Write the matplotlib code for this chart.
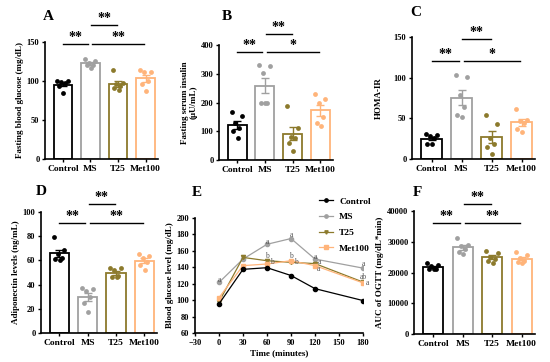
import numpy as np
import matplotlib
matplotlib.use("Agg")
import matplotlib.pyplot as plt

plt.rcParams['font.family'] = ['Liberation Serif', 'DejaVu Serif']
plt.rcParams['font.weight'] = 'bold'

groups = ["Control", "MS", "T25", "Met100"]
colors = ["#000000", "#a0a0a0", "#8c7a2c", "#ffb47a"]

glucose = [[100, 100, 99, 97, 93, 84],
           [128, 126, 123, 121, 120, 117],
           [114, 97, 96, 94, 91, 88],
           [114, 112, 111, 100, 96, 87]]
insulin = [[166, 153, 128, 110, 101, 75],
           [330, 328, 301, 200, 198, 197],
           [189, 110, 81, 75, 58, 32],
           [228, 212, 198, 150, 130, 120]]
homa = [[31, 29, 28, 26, 19, 18],
        [103, 101, 79, 64, 54, 52],
        [54, 43, 26, 18, 15, 6],
        [61, 48, 47, 44, 37, 33]]
adipo = [[79, 69, 65, 62, 61, 60],
         [37, 36, 35, 30, 25, 17],
         [54, 54, 52, 47, 46, 46],
         [65, 64, 62, 59, 56, 52]]
auc = [[23150, 22600, 22000, 21300, 21200, 21000],
       [31300, 29100, 28600, 27500, 26700, 26100],
       [26900, 26300, 25200, 24300, 23700, 23200],
       [26600, 25600, 24700, 23700, 23400, 23000]]

times = [0, 30, 60, 90, 120, 180]
ogtt = {
    "Control": [95.5, 137.5, 139.5, 130, 114, 99.5],
    "MS": [121.5, 150, 168, 175, 150, 139],
    "T25": [98, 152, 148, 146, 144.5, 122],
    "Met100": [103, 142, 144, 148, 142, 121],
}
ogtt_markers = {"Control": "o", "MS": "o", "T25": "v", "Met100": "s"}
ogtt_letters = [(0, 125, "a"), (60, 171, "a"), (60, 154, "b"), (66, 146, "b"),
                (90, 179, "a"), (90, 154, "b"), (96, 146, "b"),
                (120, 153, "a"), (126, 146, "a"), (124, 138, "a"),
                (180, 144, "a"), (180, 128, "ab"), (186, 121, "a")]

W, H = 550, 362
fig = plt.figure(figsize=(W / 100, H / 100), dpi=100)

def axrect(x0, x1, y0, y1):
    return [x0 / W, 1 - y1 / H, (x1 - x0) / W, (y1 - y0) / H]

offsets = [-0.2, 0.18, -0.06, 0.08, -0.14, 0.02]

def style(ax):
    for s in ["top", "right"]:
        ax.spines[s].set_visible(False)
    for s in ["left", "bottom"]:
        ax.spines[s].set_linewidth(1.2)
    ax.tick_params(axis='both', labelsize=6, width=1, length=2.5, pad=1.5)
    for lab in ax.get_yticklabels() + ax.get_xticklabels():
        lab.set_fontweight('bold')

def bar_panel(rect, data, ylim, yticks, ylabel, letter, sigs, letter_pos, ypad=2):
    ax = fig.add_axes(axrect(*rect))
    x = np.arange(4)
    for i, pts in enumerate(data):
        pts = np.array(pts, float)
        m = pts.mean()
        se = pts.std(ddof=1) / np.sqrt(len(pts))
        ax.bar(i, m, width=0.68, facecolor="white", edgecolor=colors[i], linewidth=1.3, zorder=2)
        ax.scatter(i + np.array(offsets), pts, s=12, color=colors[i], zorder=3, linewidths=0)
        ax.errorbar(i, m, yerr=se, color=colors[i], capsize=3, elinewidth=1, capthick=1, zorder=4)
    ax.set_xlim(-0.65, 3.45)
    ax.set_ylim(*ylim)
    ax.set_yticks(yticks)
    ax.set_xticks(x)
    ax.set_xticklabels(groups)
    ax.set_ylabel(ylabel, fontsize=6.5, fontweight='bold', labelpad=ypad)
    style(ax)
    for lab in ax.get_xticklabels():
        lab.set_fontsize(6.8)
    for (xa, xb, y, txt) in sigs:
        ax.plot([xa, xb], [y, y], color="black", lw=1, clip_on=False)
        ax.text((xa + xb) / 2, y, txt, ha="center", va="bottom", fontsize=10,
                fontweight='bold', clip_on=False)
    fig.text(letter_pos[0] / W, 1 - letter_pos[1] / H, letter, fontsize=11,
             fontweight='bold', ha='left', va='center')
    return ax

bar_panel((45, 158, 42, 159), glucose, (0, 150), [0, 50, 100, 150],
          "Fasting blood glucose (mg/dL)", "A",
          [(0, 0.9, 147, "**"), (1.03, 1.97, 172, "**"), (1.07, 2.95, 147, "**")], (43, 16))
bar_panel((219, 333, 45, 160), insulin, (0, 400), [0, 100, 200, 300, 400],
          "Fasting serum insulin\n(μU/mL)", "B",
          [(0, 0.9, 374, "**"), (1.03, 1.97, 438, "**"), (1.07, 2.95, 374, "*")], (222, 16))
bar_panel((412, 535, 37, 159), homa, (0, 150), [0, 50, 100, 150],
          "HOMA-IR", "C",
          [(0, 0.9, 121, "**"), (1.03, 1.97, 148, "**"), (1.07, 2.95, 121, "*")], (410, 13), ypad=8)
bar_panel((41, 157, 212, 333), adipo, (0, 100), [0, 20, 40, 60, 80, 100],
          "Adiponectin levels (ng/mL)", "D",
          [(0, 0.9, 90.7, "**"), (1.03, 1.97, 107, "**"), (1.07, 2.95, 90.7, "**")], (36, 191))
bar_panel((414, 535, 211, 334), auc, (0, 40000), [0, 10000, 20000, 30000, 40000],
          "AUC of OGTT (mg/dL*min)", "F",
          [(0, 0.9, 36000, "**"), (1.03, 1.97, 42400, "**"), (1.07, 2.95, 36000, "**")], (413, 193))

# Panel E
axE = fig.add_axes(axrect(195, 363, 218, 333))
for i, g in enumerate(groups):
    axE.plot(times, ogtt[g], color=colors[i], lw=0.9, marker=ogtt_markers[g],
             markersize=3.0, label=g, zorder=3 if g != "Control" else 4)
for (tx, ty, s) in ogtt_letters:
    axE.text(tx, ty, s, fontsize=5.5, color="#555555", ha="center", va="center",
             fontweight='normal')
axE.set_xlim(-30, 180)
axE.set_ylim(60, 200)
axE.set_xticks([-30, 0, 30, 60, 90, 120, 150, 180])
axE.set_yticks([60, 80, 100, 120, 140, 160, 180, 200])
axE.set_xlabel("Time (minutes)", fontsize=6.5, fontweight='bold', labelpad=2)
axE.set_ylabel("Blood glucose level (mg/dL)", fontsize=6.5, fontweight='bold', labelpad=2)
style(axE)
leg = axE.legend(loc="upper left", bbox_to_anchor=(0.70, 1.24), frameon=False,
                 handlelength=1.5, labelspacing=0.75, borderpad=0.2, markerscale=0.8,
                 handletextpad=0.6, prop={'weight': 'bold', 'size': 6.8})
fig.text(192 / W, 1 - 193 / H, "E", fontsize=11, fontweight='bold', ha='left', va='center')

fig.savefig("out.png", dpi=100)
